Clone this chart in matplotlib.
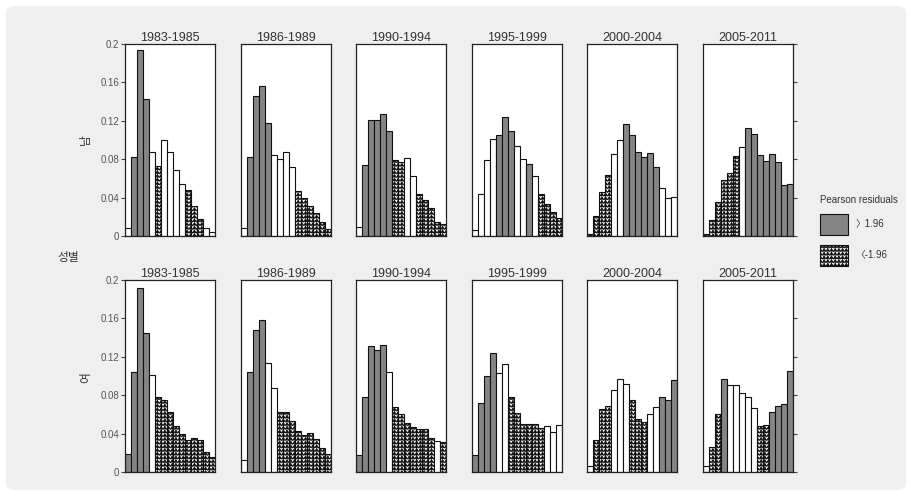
import numpy as np
import matplotlib
matplotlib.use("Agg")
import matplotlib.pyplot as plt
import matplotlib.hatch as mhatch
from matplotlib.path import Path
from matplotlib.patches import Patch, FancyBboxPatch

plt.rcParams['font.family'] = ['Liberation Sans', 'Noto Sans CJK KR', 'DejaVu Sans']
plt.rcParams['hatch.linewidth'] = 0.6
plt.rcParams['hatch.color'] = 'black'


# Wavy fill used for strongly negative residuals
class WaveHatch(mhatch.HatchPatternBase):
    def __init__(self, hatch, density):
        self.rows = 27 if (hatch and '/' in hatch) else 0
        self.waves = 27
        self.per_row = 2 * self.waves + 1
        self.num_vertices = self.rows * self.per_row

    def set_vertices_and_codes(self, vertices, codes):
        xs = np.linspace(0, 1, self.per_row)
        amp = 0.42 / self.rows
        offs = np.where(np.arange(self.per_row) % 2 == 0, -amp, amp)
        for r in range(self.rows):
            y0 = (r + 0.5) / self.rows
            s = slice(r * self.per_row, (r + 1) * self.per_row)
            vertices[s, 0] = xs
            vertices[s, 1] = y0 + offs
            codes[s] = Path.LINETO
            codes[r * self.per_row] = Path.MOVETO


mhatch._hatch_types = [WaveHatch]

# ---- data ---------------------------------------------------------------
periods = ['1983-1985', '1986-1989', '1990-1994', '1995-1999', '2000-2004', '2005-2011']
sexes = ['남', '여']

# proportions by category (15 groups) for each period
male_values = [
    [0.008, 0.082, 0.194, 0.143, 0.088, 0.073, 0.100, 0.088, 0.069, 0.054, 0.048, 0.031, 0.018, 0.008, 0.004],
    [0.008, 0.082, 0.146, 0.156, 0.118, 0.084, 0.080, 0.087, 0.072, 0.047, 0.040, 0.031, 0.024, 0.015, 0.007],
    [0.009, 0.074, 0.121, 0.121, 0.127, 0.109, 0.079, 0.077, 0.081, 0.063, 0.044, 0.038, 0.029, 0.015, 0.012],
    [0.006, 0.044, 0.079, 0.101, 0.105, 0.124, 0.109, 0.094, 0.080, 0.075, 0.063, 0.044, 0.033, 0.025, 0.019],
    [0.002, 0.021, 0.046, 0.064, 0.085, 0.100, 0.117, 0.105, 0.088, 0.082, 0.086, 0.072, 0.050, 0.040, 0.041],
    [0.002, 0.017, 0.035, 0.058, 0.066, 0.083, 0.093, 0.112, 0.106, 0.084, 0.078, 0.085, 0.077, 0.053, 0.054],
]
female_values = [
    [0.019, 0.104, 0.192, 0.145, 0.101, 0.078, 0.075, 0.062, 0.048, 0.040, 0.033, 0.035, 0.033, 0.021, 0.016],
    [0.013, 0.104, 0.148, 0.158, 0.114, 0.088, 0.062, 0.062, 0.053, 0.043, 0.039, 0.041, 0.034, 0.025, 0.019],
    [0.018, 0.078, 0.131, 0.127, 0.132, 0.104, 0.068, 0.060, 0.051, 0.047, 0.045, 0.045, 0.035, 0.032, 0.031],
    [0.018, 0.072, 0.100, 0.124, 0.103, 0.112, 0.078, 0.061, 0.050, 0.050, 0.050, 0.046, 0.048, 0.042, 0.049],
    [0.006, 0.033, 0.066, 0.069, 0.085, 0.097, 0.092, 0.075, 0.055, 0.052, 0.060, 0.068, 0.078, 0.075, 0.096],
    [0.006, 0.026, 0.060, 0.097, 0.091, 0.091, 0.082, 0.078, 0.067, 0.048, 0.049, 0.063, 0.069, 0.071, 0.105],
]

# residual class per bar: 1 = above 1.96, -1 = below -1.96, 0 = otherwise
male_resid = [
    [0, 1, 1, 1, 0, -1, 0, 0, 0, 0, -1, -1, -1, 0, 0],
    [0, 1, 1, 1, 1, 0, 0, 0, 0, -1, -1, -1, -1, -1, -1],
    [0, 1, 1, 1, 1, 1, -1, -1, 0, 0, -1, -1, -1, -1, -1],
    [0, 0, 0, 0, 1, 1, 1, 0, 0, 1, 0, -1, -1, -1, -1],
    [-1, -1, -1, -1, 0, 0, 1, 1, 1, 1, 1, 1, 0, 0, 0],
    [-1, -1, -1, -1, -1, -1, 0, 1, 1, 1, 1, 1, 1, 1, 1],
]
female_resid = [
    [1, 1, 1, 1, 0, -1, -1, -1, -1, -1, -1, -1, -1, -1, -1],
    [0, 1, 1, 1, 0, 0, -1, -1, -1, -1, -1, -1, -1, -1, -1],
    [1, 1, 1, 1, 1, 0, -1, -1, -1, -1, -1, -1, -1, 0, -1],
    [1, 1, 1, 1, 0, 0, -1, -1, -1, -1, -1, -1, 0, 0, 0],
    [0, -1, -1, -1, 0, 0, 0, -1, -1, -1, 0, 0, 1, 1, 1],
    [0, -1, -1, 1, 0, 0, 0, 0, 0, -1, -1, 1, 1, 1, 1],
]

y_ticks = [0, 0.04, 0.08, 0.12, 0.16, 0.2]
y_tick_labels = ['0', '0.04', '0.08', '0.12', '0.16', '0.2']
legend_title = 'Pearson residuals'
legend_labels = ['〉1.96', '〈-1.96']

# ---- styling --------------------------------------------------------------
GRAY = '#858585'
TEXT = '#333333'
W, H = 912, 496

fig = plt.figure(figsize=(W / 100, H / 100), dpi=100)
fig.patch.set_facecolor('white')
fig.patches.append(FancyBboxPatch((6 / W, 6 / H), (W - 12) / W, (H - 12) / H,
                                  boxstyle='round,pad=0,rounding_size=0.012',
                                  transform=fig.transFigure, facecolor='#efefef',
                                  edgecolor='none', zorder=-10))

panel_w = 90 / W
panel_h = 192 / H
lefts = [(125 + i * 115.6) / W for i in range(6)]
bottoms = [1 - 236 / H, 1 - 472 / H]

style = {
    1: dict(facecolor=GRAY, hatch=None),
    0: dict(facecolor='white', hatch=None),
    -1: dict(facecolor='white', hatch='/'),
}

for r, (vals_all, res_all) in enumerate([(male_values, male_resid), (female_values, female_resid)]):
    for c, period in enumerate(periods):
        ax = fig.add_axes([lefts[c], bottoms[r], panel_w, panel_h])
        ax.set_facecolor('white')
        vals = vals_all[c]
        res = res_all[c]
        x = np.arange(len(vals))
        for xi, v, k in zip(x, vals, res):
            ax.bar(xi, v, width=1.0, edgecolor='#111111', linewidth=0.8, **style[k])
        ax.set_xlim(-0.5, len(vals) - 0.5)
        ax.set_ylim(0, 0.2)
        ax.set_xticks([])
        for sp in ax.spines.values():
            sp.set_color('#222222')
            sp.set_linewidth(0.9)
        ax.set_title(period, fontsize=9, color=TEXT, pad=2)
        if c == 0:
            ax.set_yticks(y_ticks)
            ax.set_yticklabels(y_tick_labels)
            ax.tick_params(axis='y', length=3, width=0.8, colors='#444444',
                           labelsize=7, pad=1, labelcolor='#555555')
        elif c == len(periods) - 1:
            ax.set_yticks(y_ticks)
            ax.yaxis.tick_right()
            ax.tick_params(axis='y', length=3, width=0.8, colors='#444444',
                           labelright=False, labelleft=False)
        else:
            ax.set_yticks([])

# row labels
fig.text(86 / W, 1 - 140 / H, sexes[0], rotation=90, ha='center', va='center',
         fontsize=8.5, color=TEXT)
fig.text(86 / W, 1 - 378 / H, sexes[1], rotation=90, ha='center', va='center',
         fontsize=8.5, color=TEXT)
fig.text(68 / W, 1 - 258 / H, '성별', ha='center', va='center', fontsize=8.5, color=TEXT)

handles = [Patch(facecolor=GRAY, edgecolor='#111111', linewidth=0.8),
           Patch(facecolor='white', edgecolor='#111111', linewidth=0.8, hatch='/')]
leg = fig.legend(handles, legend_labels, title=legend_title, loc='upper left',
                 bbox_to_anchor=(811 / W, 1 - 186 / H), frameon=False,
                 fontsize=7, title_fontsize=7, handlelength=2.9, handleheight=3.0,
                 labelspacing=0.95, handletextpad=0.8, alignment='left')
for t in leg.get_texts():
    t.set_color(TEXT)
leg.get_title().set_color(TEXT)

fig.savefig('out.png', dpi=100, facecolor='white')
